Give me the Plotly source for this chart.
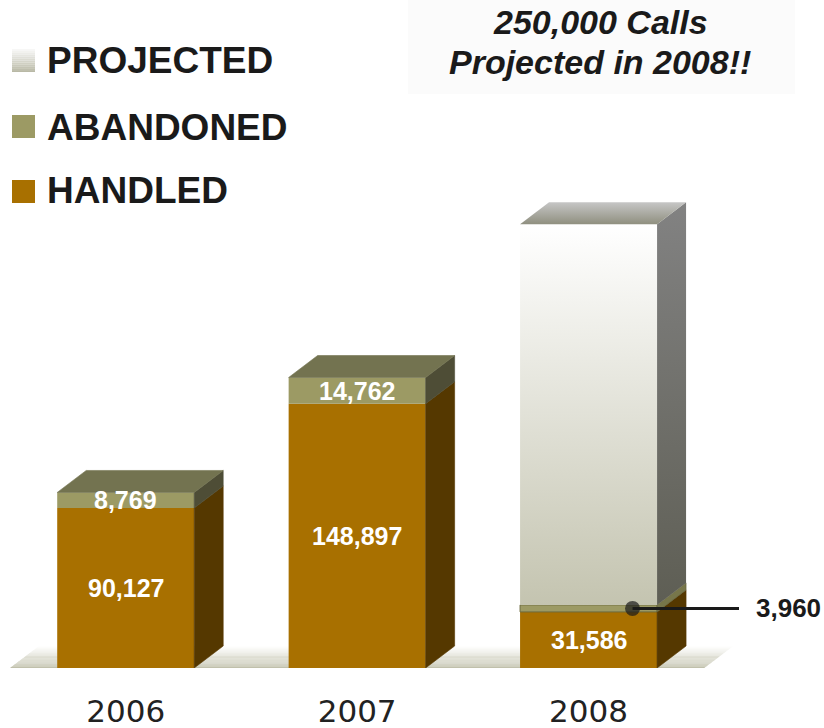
import plotly.graph_objects as go

# ---- data -------------------------------------------------------------
years = ["2006", "2007", "2008"]
handled = [90127, 148897, 31586]
abandoned = [8769, 14762, 3960]
projected = [0, 0, 214454]          # remainder of the 250,000 projected for 2008
headline = ["250,000 Calls", "Projected in 2008!!"]
legend_labels = ["PROJECTED", "ABANDONED", "HANDLED"]

# ---- styling ----------------------------------------------------------
FONT = "Liberation Sans, Arial, sans-serif"
HANDLED_FRONT, HANDLED_SIDE = "#a87000", "#553800"
ABAND_FRONT, ABAND_SIDE, ABAND_TOP = "#9c9a64", "#4e4d36", "#737350"
BAND_SIDE = "#77764a"
PROJ_BOTTOM, PROJ_TOP = "#c4c4b0", "#ffffff"

# plot area geometry (pixels) used for depth offsets and overlay placement
L, R, T, B = 10, 85, 100, 60
W_PX, H_PX = 824 - L - R, 728 - T - B
X_RANGE = [-0.5, 2.65]
Y_RANGE = [0, 320000]
UX = W_PX / (X_RANGE[1] - X_RANGE[0])       # px per category
UY = H_PX / (Y_RANGE[1] - Y_RANGE[0])       # px per call

BAR_W = 137 / UX
DX = 29 / UX
DY = 22 / UY

def px_x(px):
    return (px - L) / W_PX

def px_y(py):
    return (728 - B - py) / H_PX

def hex_mix(c0, c1, t):
    a = [int(c0[i:i + 2], 16) for i in (1, 3, 5)]
    b = [int(c1[i:i + 2], 16) for i in (1, 3, 5)]
    return "#" + "".join(f"{round(a[k] + (b[k] - a[k]) * t):02x}" for k in range(3))

xs = list(range(len(years)))
fig = go.Figure()

# front faces
fig.add_trace(go.Bar(x=xs, y=handled, width=BAR_W, name="HANDLED",
                     marker=dict(color=HANDLED_FRONT, line=dict(width=0)),
                     showlegend=False, hoverinfo="skip"))
fig.add_trace(go.Bar(x=xs, y=abandoned, base=handled, width=BAR_W, name="ABANDONED",
                     marker=dict(color=ABAND_FRONT,
                                 line=dict(width=[0, 0, 1], color="#6c6b3e")),
                     showlegend=False, hoverinfo="skip"))
fig.update_layout(barmode="overlay")


def poly(xp, yp, color=None, grad=None, line=None):
    xp = list(xp) + [xp[0]]
    yp = list(yp) + [yp[0]]
    kw = dict(x=xp, y=yp, mode="lines", fill="toself", showlegend=False,
              hoverinfo="skip", line=dict(width=0.6 if line else 0, color=line or "rgba(0,0,0,0)"))
    if grad:
        kw["fillgradient"] = dict(type="vertical", colorscale=[[0, grad[0]], [1, grad[1]]])
    else:
        kw["fillcolor"] = color
    fig.add_trace(go.Scatter(**kw))


def side(x_r, y0, y1, **kw):
    poly([x_r, x_r + DX, x_r + DX, x_r], [y0, y0 + DY, y1 + DY, y1], **kw)


def top(x_l, x_r, y, **kw):
    poly([x_l, x_r, x_r + DX, x_l + DX], [y, y, y + DY, y + DY], **kw)


for i in xs:
    xl, xr = i - BAR_W / 2, i + BAR_W / 2
    h, a, p = handled[i], abandoned[i], projected[i]
    side(xr, 0, h, color=HANDLED_SIDE, line=HANDLED_SIDE)
    if p > 0:
        side(xr, h, h + a, color=BAND_SIDE, line="#5e5d38")
        poly([xl, xr, xr, xl], [h + a, h + a, h + a + p, h + a + p],
             grad=[PROJ_BOTTOM, PROJ_TOP])
        side(xr, h + a, h + a + p, grad=["#5e5e54", "#828282"])
        top(xl, xr, h + a + p, grad=["#8f8f7f", "#c6c6c6"])
    else:
        side(xr, h, h + a, color=ABAND_SIDE, line=ABAND_SIDE)
        top(xl, xr, h + a, color=ABAND_TOP, line=ABAND_TOP)

# callout for the thin 2008 abandoned band
band_mid = handled[2] + abandoned[2] / 2
fig.add_trace(go.Scatter(x=[2.19, 2.676], y=[band_mid, band_mid], mode="lines+markers",
                         line=dict(color="#1a1a1a", width=3),
                         marker=dict(size=[15, 0], color="#1a1a1a", line=dict(width=0)),
                         cliponaxis=False, showlegend=False, hoverinfo="skip"))

# value labels
ann = []
for i in xs:
    ann.append(dict(x=i, y=handled[i] / 2, text=f"<b>{handled[i]:,}</b>", showarrow=False,
                    font=dict(family=FONT, size=25, color="white")))
    if projected[i] == 0:
        ann.append(dict(x=i, y=handled[i] + abandoned[i] / 2, text=f"<b>{abandoned[i]:,}</b>",
                        showarrow=False, font=dict(family=FONT, size=25, color="white")))
ann.append(dict(xref="paper", x=px_x(754), y=band_mid, text=f"<b>{abandoned[2]:,}</b>",
                showarrow=False, xanchor="left",
                font=dict(family=FONT, size=26, color="#1a1a1a")))

# headline
for txt, py in zip(headline, [22, 62]):
    ann.append(dict(xref="paper", yref="paper", x=px_x(600), y=px_y(py), text=f"<b><i>{txt}</i></b>",
                    showarrow=False, xanchor="center", yanchor="middle",
                    font=dict(family=FONT, size=34, color="#1a1a1a")))

shapes = []
shapes.append(dict(type="rect", xref="paper", yref="paper", x0=px_x(408), x1=px_x(795),
                   y0=px_y(94), y1=px_y(0), fillcolor="#fbfbfb", line=dict(width=0), layer="below"))

# floor with a vertical fade
N = 24
for k in range(N):
    t0, t1 = k / N, (k + 1) / N
    col = hex_mix("#bfbfa9", "#ffffff", (k + 0.5) / N)
    x0l, x1l = -0.5 + DX * t0, -0.5 + DX * t1
    x0r, x1r = 2.5 + DX * t0, 2.5 + DX * t1
    shapes.append(dict(type="path", xref="x", yref="y", layer="below",
                       path=f"M {x0l},{DY*t0} L {x0r},{DY*t0} L {x1r},{DY*t1} L {x1l},{DY*t1} Z",
                       fillcolor=col, line=dict(width=0)))

# legend swatches and labels
sw = [(49, 72), (115, 138), (180, 203)]
lab_y = [60, 127, 191]
for k in range(12):
    y0 = 49 + (72 - 49) * k / 12
    y1 = 49 + (72 - 49) * (k + 1) / 12
    shapes.append(dict(type="rect", xref="paper", yref="paper", x0=px_x(12), x1=px_x(35),
                       y0=px_y(y1), y1=px_y(y0), line=dict(width=0),
                       fillcolor=hex_mix("#fafafa", "#b6b6a2", (k + 0.5) / 12)))
for (y0, y1), col in zip(sw[1:], [ABAND_FRONT, HANDLED_FRONT]):
    shapes.append(dict(type="rect", xref="paper", yref="paper", x0=px_x(12), x1=px_x(35),
                       y0=px_y(y1), y1=px_y(y0), line=dict(width=0), fillcolor=col))
for txt, py in zip(legend_labels, lab_y):
    ann.append(dict(xref="paper", yref="paper", x=px_x(45), y=px_y(py), text=f"<b>{txt}</b>",
                    showarrow=False, xanchor="left", yanchor="middle",
                    font=dict(family=FONT, size=37, color="#1a1a1a")))

fig.update_layout(
    width=824, height=728, margin=dict(l=L, r=R, t=T, b=B, pad=0, autoexpand=False),
    paper_bgcolor="white", plot_bgcolor="rgba(0,0,0,0)",
    annotations=ann, shapes=shapes,
    xaxis=dict(range=X_RANGE, tickvals=xs, ticktext=years, showgrid=False, zeroline=False,
               showline=False, ticks="", fixedrange=True, ticklabelstandoff=22, automargin=False,
               tickfont=dict(family="DejaVu Sans", size=31, color="#222222")),
    yaxis=dict(range=Y_RANGE, visible=False, showgrid=False, zeroline=False, fixedrange=True,
               automargin=False),
)

fig.write_html("out.html", config={"displayModeBar": False})
